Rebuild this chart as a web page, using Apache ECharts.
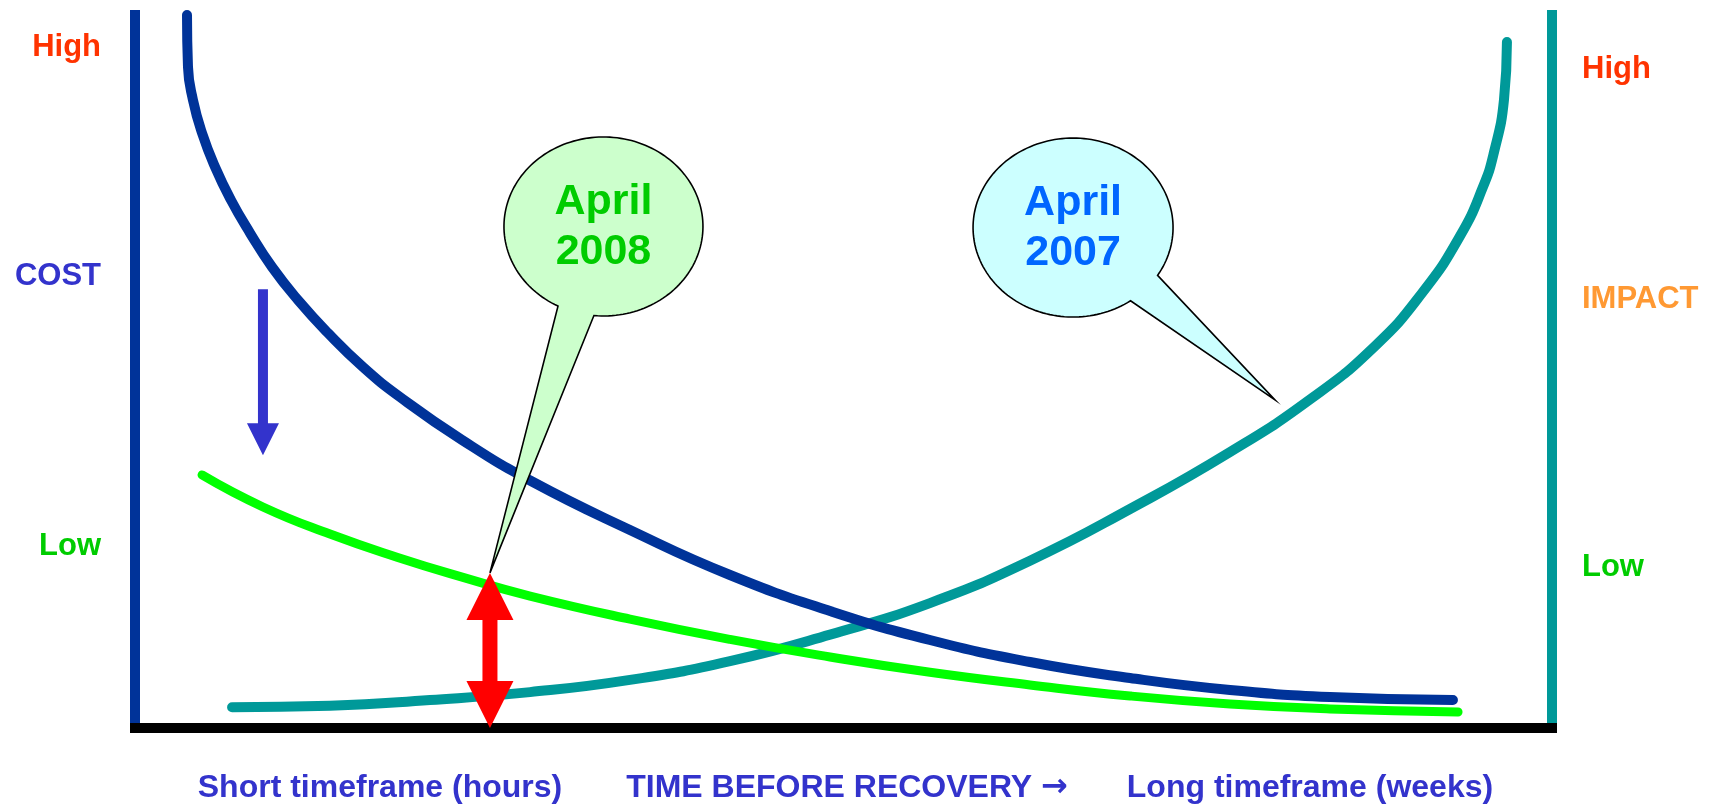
<!DOCTYPE html>
<html>
<head>
<meta charset="utf-8">
<script src="https://cdn.jsdelivr.net/npm/echarts@6/dist/echarts.min.js"></script>
<style>
  html, body { margin: 0; padding: 0; background: #ffffff; }
  #chart { width: 1715px; height: 804px; }
</style>
</head>
<body>
<div id="chart"></div>
<script>
// ---- Data (time 0..100 along the axis, level 0..100) ----
const costTime   = [3.67, 3.74, 4.09, 4.73, 5.65, 6.77, 8.12, 9.67, 11.50, 13.62, 16.09, 18.70, 23.08, 27.95, 34.93, 41.99, 49.05, 56.10, 63.16, 70.22, 77.28, 84.33, 93.01];
const costLevel  = [99.3, 92.06, 87.47, 82.87, 78.13, 73.54, 68.94, 64.21, 59.61, 55.01, 50.28, 46.10, 40.11, 34.40, 27.58, 21.31, 16.30, 12.26, 9.19, 6.96, 5.29, 4.32, 3.90];

const cost2008Time  = [4.73, 9.03, 13.76, 18.49, 23.15, 27.88, 34.93, 41.99, 49.05, 56.10, 63.16, 70.22, 77.28, 84.33, 93.37];
const cost2008Level = [35.24, 30.78, 27.01, 23.79, 20.98, 18.38, 15.17, 12.34, 9.89, 7.76, 6.00, 4.46, 3.34, 2.65, 2.23];

const impactTime  = [6.85, 13.76, 20.82, 27.88, 34.93, 41.99, 49.05, 56.10, 63.16, 70.22, 77.28, 83.06, 87.51, 90.83, 93.51, 95.13, 95.91, 96.61, 96.82];
const impactLevel = [2.9, 3.1, 3.9, 5.0, 6.7, 9.3, 13.0, 17.4, 23.3, 30.5, 38.44, 45.96, 53.20, 60.58, 68.52, 75.35, 80.22, 87.47, 95.54];

const leftLabels       = ['High', 'COST', 'Low'];
const leftLabelValues  = [94.8, 62.9, 25.3];
const rightLabels      = ['High', 'IMPACT', 'Low'];
const rightLabelValues = [91.7, 59.7, 22.4];
const bottomLabels      = ['Short timeframe (hours)', 'TIME BEFORE RECOVERY \u2192', 'Long timeframe (weeks)'];
const bottomLabelValues = [17.29, 50.25, 82.92];

const calloutTexts = ['April\n2008', 'April\n2007'];

// ---- Annotation anchors (data space) ----
const callouts = [
  { cx: 33.06, cy: 69.85, tx: 25.05, ty: 21.6, rx: 99.5, ry: 89.5, a1: 117.2, a2: 95.5,
    fill: '#CCFFCC', color: '#00CC00', text: calloutTexts[0] },
  { cx: 66.20, cy: 69.70, tx: 80.45, ty: 45.7, rx: 100, ry: 89.5, a1: 54.9, a2: 32.3,
    fill: '#CCFFFF', color: '#0066FF', text: calloutTexts[1] }
];
const arrows = [
  { x: 25.05, top: 21.6, bottom: 0, kind: 'double', color: '#FF0000', hw: 23.5, hl: 47, sw: 7.5 },
  { x: 9.03, top: 61.1, bottom: 38.0, kind: 'down', color: '#3333CC', hw: 16, hl: 32, sw: 5 }
];

const zip = (a, b) => a.map((v, i) => [v, b[i]]);
const FONT = '"Liberation Sans", Arial, sans-serif';

function pickIndex(values, v) {
  let best = 0, bd = Infinity;
  values.forEach((x, i) => { const d = Math.abs(x - v); if (d < bd) { bd = d; best = i; } });
  return best;
}

const chart = echarts.init(document.getElementById('chart'), null, { renderer: 'canvas' });

const sideRich = (color) => ({ color: color, fontSize: 31, fontWeight: 'bold', fontFamily: FONT });

const option = {
  animation: false,
  backgroundColor: '#ffffff',
  grid: { left: 135, right: 163, top: 10, bottom: 76, containLabel: false },
  xAxis: {
    type: 'value', min: 0, max: 100,
    axisLine: { show: true, onZero: false, lineStyle: { color: '#000000', width: 10, cap: 'square' } },
    axisTick: { show: false },
    splitLine: { show: false },
    axisLabel: {
      customValues: bottomLabelValues,
      formatter: (v) => {
        const s = bottomLabels[pickIndex(bottomLabelValues, v)];
        const k = s.indexOf('\u2192');
        return k < 0 ? '{t|' + s + '}' : '{t|' + s.slice(0, k) + '}{a|\u2192}';
      },
      margin: 44,
      rich: {
        t: { color: '#3333CC', fontSize: 32, fontWeight: 'bold', fontFamily: FONT },
        a: { color: '#3333CC', fontSize: 32, fontWeight: 'bold', fontFamily: '"DejaVu Sans", sans-serif' }
      }
    }
  },
  yAxis: [
    {
      type: 'value', min: 0, max: 100, position: 'left',
      axisLine: { show: true, onZero: false, lineStyle: { color: '#003399', width: 10, cap: 'butt' } },
      axisTick: { show: false },
      splitLine: { show: false },
      axisLabel: {
        customValues: leftLabelValues,
        formatter: (v) => { const i = pickIndex(leftLabelValues, v); return '{l' + i + '|' + leftLabels[i] + '}'; },
        margin: 34,
        rich: { l0: sideRich('#FF3300'), l1: sideRich('#3333CC'), l2: sideRich('#00CC00') }
      }
    },
    {
      type: 'value', min: 0, max: 100, position: 'right',
      axisLine: { show: true, onZero: false, lineStyle: { color: '#009999', width: 10, cap: 'butt' } },
      axisTick: { show: false },
      splitLine: { show: false },
      axisLabel: {
        customValues: rightLabelValues,
        formatter: (v) => { const i = pickIndex(rightLabelValues, v); return '{r' + i + '|' + rightLabels[i] + '}'; },
        margin: 30,
        rich: { r0: sideRich('#FF3300'), r1: sideRich('#FF9933'), r2: sideRich('#00CC00') }
      }
    }
  ],
  series: [
    {
      name: 'Impact', type: 'line', yAxisIndex: 1, data: zip(impactTime, impactLevel),
      smooth: 0.5, showSymbol: false, clip: false, z: 2,
      lineStyle: { color: '#009999', width: 10, cap: 'round', join: 'round' }
    },
    {
      name: 'Cost', type: 'line', data: zip(costTime, costLevel),
      smooth: 0.5, showSymbol: false, clip: false, z: 3,
      lineStyle: { color: '#003399', width: 10, cap: 'round', join: 'round' }
    },
    {
      name: 'Cost 2008', type: 'line', data: zip(cost2008Time, cost2008Level),
      smooth: 0.5, showSymbol: false, clip: false, z: 4,
      lineStyle: { color: '#00FF00', width: 9, cap: 'round', join: 'round' }
    },
    {
      name: 'Callouts', type: 'custom', z: 5, clip: false,
      data: callouts.map(c => [c.cx, c.cy]),
      renderItem: function (params, api) {
        const c = callouts[params.dataIndex];
        const ctr = api.coord([c.cx, c.cy]);
        const tip = api.coord([c.tx, c.ty]);
        const pts = [];
        const a1 = c.a1, a2 = c.a2 + 360, n = 160;
        for (let i = 0; i <= n; i++) {
          const t = (a1 + (a2 - a1) * i / n) * Math.PI / 180;
          pts.push([ctr[0] + c.rx * Math.cos(t), ctr[1] + c.ry * Math.sin(t)]);
        }
        pts.push(tip);
        return {
          type: 'group',
          children: [
            { type: 'polygon', shape: { points: pts },
              style: { fill: c.fill, stroke: '#000000', lineWidth: 1.6, lineJoin: 'miter' } },
            { type: 'text', x: ctr[0], y: ctr[1] + 1,
              style: { text: c.text, fill: c.color, fontSize: 43, fontWeight: 'bold', fontFamily: FONT,
                       align: 'center', verticalAlign: 'middle', lineHeight: 50 } }
          ]
        };
      }
    },
    {
      name: 'Arrows', type: 'custom', z: 6, clip: false,
      data: arrows.map(a => [a.x, a.top, a.bottom]),
      renderItem: function (params, api) {
        const a = arrows[params.dataIndex];
        const p1 = api.coord([api.value(0), api.value(1)]);
        const p2 = api.coord([api.value(0), api.value(2)]);
        const x = p1[0], yt = p1[1], yb = p2[1];
        let pts;
        if (a.kind === 'double') {
          pts = [[x, yt], [x + a.hw, yt + a.hl], [x + a.sw, yt + a.hl], [x + a.sw, yb - a.hl], [x + a.hw, yb - a.hl],
                 [x, yb], [x - a.hw, yb - a.hl], [x - a.sw, yb - a.hl], [x - a.sw, yt + a.hl], [x - a.hw, yt + a.hl]];
        } else {
          pts = [[x - a.sw, yt], [x + a.sw, yt], [x + a.sw, yb - a.hl], [x + a.hw, yb - a.hl], [x, yb],
                 [x - a.hw, yb - a.hl], [x - a.sw, yb - a.hl]];
        }
        return { type: 'polygon', shape: { points: pts }, style: { fill: a.color } };
      }
    }
  ]
};
chart.setOption(option);
</script>
</body>
</html>
